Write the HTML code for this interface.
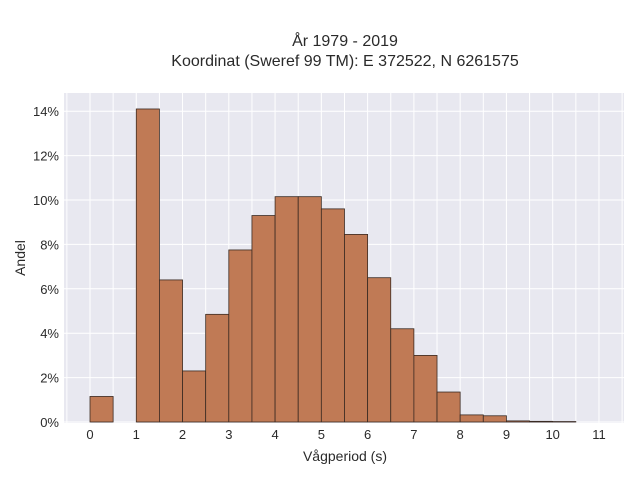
<!DOCTYPE html>
<html><head><meta charset="utf-8"><style>
body{margin:0;background:#fff;font-family:"Liberation Sans",sans-serif;}
svg text{font-family:"Liberation Sans",sans-serif;fill:#2a2a2a;}
</style></head><body>
<svg width="640" height="480">
<text x="345" y="46" font-size="16" text-anchor="middle">År 1979 - 2019</text>
<text x="345" y="66" font-size="16" text-anchor="middle">Koordinat (Sweref 99 TM): E 372522, N 6261575</text>
<rect x="64" y="93" width="560" height="330" fill="#e8e8f0"/>
<g id="grid"></g><g id="bars"></g><g id="xt"></g><g id="yt"></g>
<text x="345" y="461" font-size="14" text-anchor="middle">Vågperiod (s)</text>
<text transform="translate(25,258) rotate(-90)" font-size="14" text-anchor="middle">Andel</text>
</svg>
<script>
const binStarts=[0,0.5,1,1.5,2,2.5,3,3.5,4,4.5,5,5.5,6,6.5,7,7.5,8,8.5,9,9.5,10];
const shares=[1.15,0,14.1,6.4,2.3,4.85,7.75,9.3,10.15,10.15,9.6,8.45,6.5,4.2,3.0,1.35,0.32,0.28,0.05,0.03,0.02];
const xTicks=[0,1,2,3,4,5,6,7,8,9,10,11];
const yTicks=[0,2,4,6,8,10,12,14];
const binWidth=0.5;
const NS="http://www.w3.org/2000/svg";
const xs=v=>90+v*46.27, ys=v=>422-v*22.2;
function mk(p,t,a){const e=document.createElementNS(NS,t);for(const k in a)e.setAttribute(k,a[k]);document.getElementById(p).appendChild(e);return e;}
for(let v=-0.5;v<=11.5;v+=0.5){const x=xs(v);if(x<64||x>624)continue;
const l=mk('grid','line',{x1:x,x2:x,y1:93,y2:423,stroke:'#fff','stroke-width':1});

}
yTicks.forEach(v=>{const l=mk('grid','line',{x1:64,x2:624,y1:ys(v),y2:ys(v),stroke:'#fff','stroke-width':1});


const t=mk('yt','text',{x:59,y:ys(v)+5,'font-size':13,'text-anchor':'end'});t.textContent=v+'%';

});
xTicks.forEach(v=>{const t=mk('xt','text',{x:xs(v),y:439,'font-size':13,'text-anchor':'middle'});t.textContent=v;

});
binStarts.forEach((b,i)=>{if(shares[i]<=0)return;const y=ys(shares[i]);
const r=mk('bars','rect',{x:xs(b),y:y,width:xs(b+binWidth)-xs(b),height:422-y,fill:'#c07a55',stroke:'#3a2a22','stroke-width':0.8});

});
</script>
</body></html>
